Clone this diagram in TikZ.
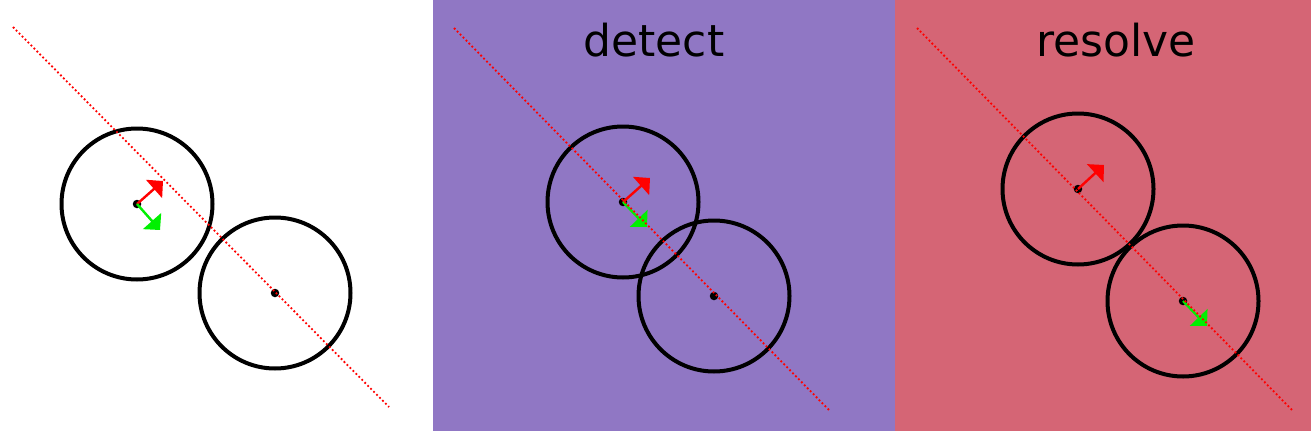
\documentclass[tikz,border=0pt]{standalone}
\usepackage{fontspec}
\setmainfont{DejaVu Sans}
\usetikzlibrary{arrows.meta}
\definecolor{panelpurple}{RGB}{144,119,196}
\definecolor{panelred}{RGB}{213,101,117}
\definecolor{arrowred}{RGB}{255,0,0}
\definecolor{arrowgreen}{RGB}{0,240,0}
\tikzset{
  ball/.style={draw=black, line width=4pt, circle, minimum size=151pt, inner sep=0pt},
  centerdot/.style={fill=black, circle, minimum size=8.5pt, inner sep=0pt},
  normalline/.style={draw=red, line width=1.8pt, dash pattern=on 1.8pt off 2.4pt},
  vecred/.style={draw=arrowred, fill=arrowred, line width=2.4pt, -{Triangle[length=12pt,width=24pt]}},
  vecgreen/.style={draw=arrowgreen, fill=arrowgreen, line width=2.4pt, -{Triangle[length=12pt,width=24pt]}},
  title/.style={font=\fontsize{44pt}{50pt}\selectfont, text=black, inner sep=0pt}
}
\begin{document}
\begin{tikzpicture}[x=1pt,y=-1pt]
\useasboundingbox (0,0) rectangle (1311,431);
\fill[white] (0,0) rectangle (433,431);
\fill[panelpurple] (433,0) rectangle (895,431);
\fill[panelred] (895,0) rectangle (1311,431);

% panel 1
\node[ball] (b1) at (137,204) {};
\node[ball] (b2) at (275,293) {};
\node[centerdot] (c1) at (137,204) {};
\node[centerdot] (c2) at (275,293) {};
\coordinate (r1) at (163,181);
\coordinate (g1) at (160,230);
\draw[vecred] (c1.center) -- (r1);
\draw[vecgreen] (c1.center) -- (g1);
\coordinate (l1a) at (13,27);
\coordinate (l1b) at (389,407);
\draw[normalline] (l1a) -- (l1b);

% panel 2
\node[title] (t2) at (654,40) {detect};
\node[ball] (b3) at (623,202) {};
\node[ball] (b4) at (714,296) {};
\node[centerdot] (c3) at (623,202) {};
\node[centerdot] (c4) at (714,296) {};
\coordinate (r2) at (650,178);
\coordinate (g2) at (647,227);
\draw[vecred] (c3.center) -- (r2);
\draw[vecgreen] (c3.center) -- (g2);
\coordinate (l2a) at (454,28);
\coordinate (l2b) at (829,410);
\draw[normalline] (l2a) -- (l2b);

% panel 3
\node[title] (t3) at (1116,40) {resolve};
\node[ball] (b5) at (1078,189) {};
\node[ball] (b6) at (1183,301) {};
\node[centerdot] (c5) at (1078,189) {};
\node[centerdot] (c6) at (1183,301) {};
\coordinate (r3) at (1104,165);
\coordinate (g3) at (1207,326);
\draw[vecred] (c5.center) -- (r3);
\draw[vecgreen] (c6.center) -- (g3);
\coordinate (l3a) at (917,28);
\coordinate (l3b) at (1292,410);
\draw[normalline] (l3a) -- (l3b);
\end{tikzpicture}
\end{document}
